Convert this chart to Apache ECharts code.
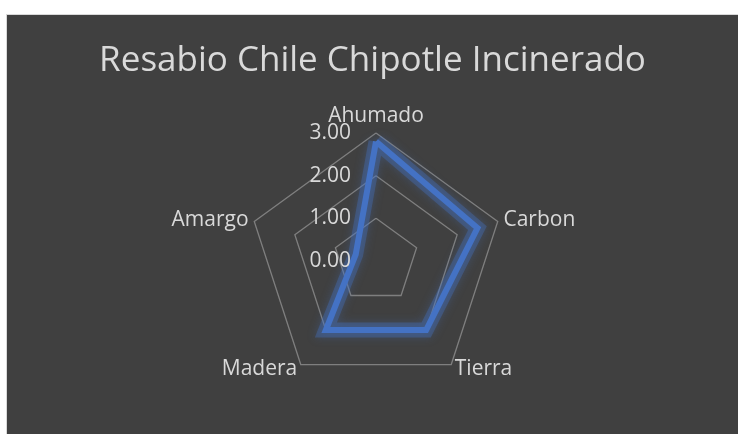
<!DOCTYPE html>
<html>
<head>
<meta charset="utf-8">
<script src="https://cdn.jsdelivr.net/npm/echarts@6/dist/echarts.min.js"></script>
<style>
html,body{margin:0;padding:0;background:#ffffff;width:738px;height:434px;overflow:hidden;}
#chart{position:absolute;left:6px;top:14px;width:731px;height:419px;border-left:1px solid #d9d9d9;border-top:1px solid #d9d9d9;background:#404040;}
</style>
</head>
<body>
<div id="chart"></div>
<script>
const title = 'Resabio Chile Chipotle Incinerado';
const categories = ['Ahumado', 'Carbon', 'Tierra', 'Madera', 'Amargo'];
const values = [2.8, 2.5, 2.0, 2.0, 0.5];
const tickLabels = ['0.00', '1.00', '2.00', '3.00'];
const axisMax = 3;

// Excel draws clockwise from top; ECharts radar draws counter-clockwise, so reorder
const order = [0].concat(categories.map((c, i) => i).slice(1).reverse());
const indicators = order.map(i => ({ name: categories[i], min: 0, max: axisMax }));
const seriesValues = order.map(i => values[i]);

const textColor = '#d9d9d9';
const font = 'Open Sans';
const center = [369, 246];
const radius = 128;

const chart = echarts.init(document.getElementById('chart'), null, { renderer: 'canvas' });
chart.setOption({
  backgroundColor: '#404040',
  animation: false,
  title: {
    text: title,
    left: 'center',
    top: 24,
    textStyle: { color: textColor, fontFamily: font, fontSize: 35, fontWeight: 'normal' }
  },
  radar: {
    center: center,
    radius: radius,
    startAngle: 90,
    shape: 'polygon',
    splitNumber: 3,
    nameGap: 6,
    indicator: indicators,
    axisName: { color: textColor, fontFamily: font, fontSize: 21 },
    axisLine: { show: false },
    axisTick: { show: false },
    axisLabel: { show: false },
    splitArea: { show: false },
    splitLine: { lineStyle: { color: '#7f7f7f', width: 1.3 } }
  },
  polar: { center: center, radius: radius },
  angleAxis: { type: 'value', startAngle: 90, min: 0, max: 360, show: false },
  radiusAxis: {
    type: 'value',
    min: 0,
    max: axisMax,
    interval: 1,
    axisLine: { show: false },
    axisTick: { show: false },
    splitLine: { show: false },
    axisLabel: {
      color: textColor, fontFamily: font, fontSize: 21, margin: 25,
      formatter: function (v) { return tickLabels[Math.round(v)]; }
    },
    z: 10
  },
  series: [{
    // soft glow beneath the line
    type: 'radar',
    symbol: 'none',
    silent: true,
    z: 1,
    data: [{ value: seriesValues }],
    lineStyle: {
      color: 'rgba(68,114,196,0.35)', width: 15, join: 'miter',
      shadowColor: 'rgba(68,114,196,0.8)', shadowBlur: 10
    }
  }, {
    type: 'radar',
    symbol: 'none',
    z: 2,
    data: [{ value: seriesValues }],
    lineStyle: {
      color: '#4472C4', width: 6, join: 'miter'
    }
  }]
});
</script>
</body>
</html>
